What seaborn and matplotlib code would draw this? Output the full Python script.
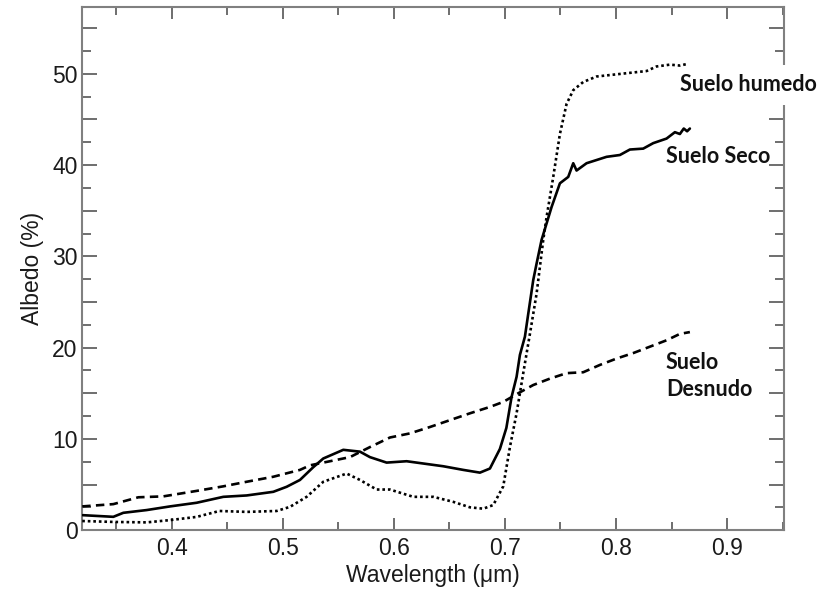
import numpy as np
import pandas as pd
import seaborn as sns
import matplotlib.pyplot as plt
from matplotlib.ticker import MultipleLocator, FuncFormatter

# Curves (wavelength in um, albedo in %)
seco_x = [0.32, 0.3475, 0.3565, 0.3775, 0.3985, 0.4225, 0.4465, 0.4675, 0.4915, 0.5035,
          0.5155, 0.5275, 0.5365, 0.5545, 0.5695, 0.5785, 0.5935, 0.6115, 0.6265, 0.6445,
          0.6625, 0.6775, 0.6865, 0.6955, 0.7013, 0.706, 0.7105, 0.7135, 0.718, 0.721,
          0.7255, 0.7285, 0.733, 0.742, 0.7495, 0.757, 0.7615, 0.7645, 0.7735, 0.7915,
          0.8035, 0.8125, 0.8245, 0.8335, 0.8455, 0.853, 0.8575, 0.861, 0.864, 0.8665]
seco_y = [1.64, 1.46, 1.9, 2.2, 2.6, 3.0, 3.65, 3.8, 4.2, 4.75,
          5.5, 6.9, 7.85, 8.8, 8.6, 8.0, 7.4, 7.55, 7.3, 7.0,
          6.6, 6.3, 6.75, 8.9, 11.2, 14.6, 16.8, 19.2, 21.2, 23.7,
          27.4, 29.2, 31.8, 35.4, 38.0, 38.7, 40.2, 39.4, 40.2, 40.9,
          41.1, 41.7, 41.8, 42.4, 42.9, 43.6, 43.4, 44.0, 43.7, 44.0]

humedo_x = [0.3195, 0.3475, 0.3775, 0.3985, 0.4225, 0.443, 0.4675, 0.4945, 0.5065, 0.5215,
            0.5365, 0.5575, 0.5695, 0.5845, 0.5965, 0.6175, 0.6355, 0.6535, 0.6685, 0.6805,
            0.6895, 0.6985, 0.7045, 0.7105, 0.7165, 0.7225, 0.7285, 0.7345, 0.7375, 0.7435,
            0.7495, 0.7555, 0.7615, 0.7705, 0.7825, 0.7975, 0.8125, 0.8275, 0.8365, 0.8485,
            0.8575, 0.865]
humedo_y = [1.0, 0.9, 0.85, 1.1, 1.45, 2.1, 2.0, 2.1, 2.55, 3.65,
            5.3, 6.2, 5.5, 4.45, 4.45, 3.65, 3.65, 3.1, 2.5, 2.35,
            2.75, 4.8, 9.1, 12.8, 17.2, 21.5, 25.9, 31.8, 34.3, 38.7,
            43.4, 46.7, 48.2, 49.1, 49.7, 49.9, 50.1, 50.3, 50.8, 51.0,
            50.9, 51.1]

desnudo_x = [0.3195, 0.3475, 0.37, 0.3925, 0.4225, 0.4465, 0.4675, 0.4915, 0.5155, 0.5245,
             0.5425, 0.5605, 0.5785, 0.5965, 0.6145, 0.6325, 0.6505, 0.6685, 0.6865, 0.6985,
             0.7135, 0.7255, 0.7405, 0.7555, 0.7705, 0.7855, 0.8005, 0.8155, 0.8305, 0.8455,
             0.8575, 0.8665]
desnudo_y = [2.6, 2.85, 3.6, 3.7, 4.3, 4.8, 5.3, 5.85, 6.6, 7.1,
             7.55, 8.0, 9.1, 10.15, 10.6, 11.3, 12.05, 12.8, 13.5, 14.05,
             15.1, 15.9, 16.6, 17.2, 17.3, 18.1, 18.8, 19.4, 20.1, 20.8,
             21.5, 21.7]

sns.set_style("ticks")
plt.rcParams['font.family'] = ['Liberation Sans', 'DejaVu Sans']

fig = plt.figure(figsize=(8.25, 5.95), dpi=100)
ax = fig.add_axes([0.099, 0.109, 0.851, 0.879])

# Drawing the three soil curves (above the label boxes)
sns.lineplot(x=seco_x, y=seco_y, ax=ax, color='black', lw=1.9, ls='-', zorder=6)
sns.lineplot(x=humedo_x, y=humedo_y, ax=ax, color='black', lw=1.9, ls=(0, (1, 1.1)), zorder=6)
sns.lineplot(x=desnudo_x, y=desnudo_y, ax=ax, color='black', lw=1.9, ls=(0, (3.2, 2.0)), zorder=6)

ax.set_xlim(0.319, 0.951)
ax.set_ylim(0, 57.3)

# Axis ticks on all four sides, pointing inwards
ax.xaxis.set_major_locator(MultipleLocator(0.1))
ax.xaxis.set_minor_locator(MultipleLocator(0.05))
ax.yaxis.set_major_locator(MultipleLocator(5))
ax.yaxis.set_minor_locator(MultipleLocator(2.5))
ax.yaxis.set_major_formatter(FuncFormatter(lambda v, p: f"{v:.0f}" if v % 10 == 0 else ""))
ax.xaxis.set_major_formatter(FuncFormatter(lambda v, p: f"{v:.1f}"))

ax.tick_params(which='both', direction='in', top=True, right=True,
               color='#555555', width=1.2, labelsize=16.5, labelcolor='#1a1a1a')
ax.tick_params(axis='x', which='major', length=8.5, pad=5)
ax.tick_params(axis='x', which='minor', length=5.8)
ax.tick_params(axis='y', which='major', length=10.5, pad=3)
ax.tick_params(axis='y', which='minor', length=6.5)

for sp in ax.spines.values():
    sp.set_color('#808080')
    sp.set_linewidth(1.5)

ax.set_xlabel("Wavelength (\u03bcm)", fontsize=16.5, color='#1a1a1a', labelpad=3)
ax.set_ylabel("Albedo (%)", fontsize=16.5, color='#1a1a1a', labelpad=6)

# Labels for each curve
lab = dict(fontsize=15.5, fontweight='bold', family=['Lato', 'DejaVu Sans'],
           color='#111111', ha='left', va='center', zorder=5)
ax.text(0.8575, 48.8, "Suelo humedo",
        bbox=dict(facecolor='white', edgecolor='none', pad=7), **lab)
ax.text(0.845, 40.9, "Suelo Seco", **lab)
ax.text(0.845, 18.4, "Suelo", **lab)
ax.text(0.845, 15.4, "Desnudo", **lab)

plt.savefig('out.png', dpi=100)
